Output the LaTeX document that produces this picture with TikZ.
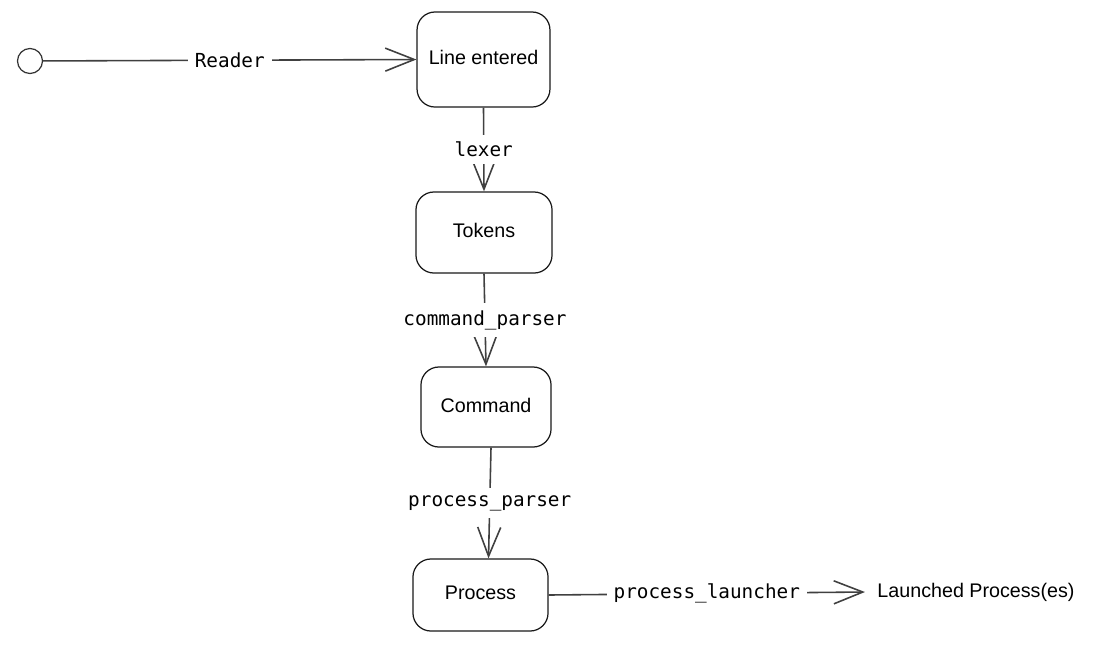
\documentclass[tikz,border=0pt]{standalone}
\usepackage{fontspec}
\setmainfont{Liberation Sans}
\newfontfamily\codefont{DejaVu Sans Mono}
\usetikzlibrary{arrows.meta, positioning}

\begin{document}
\begin{tikzpicture}[x=0.01cm, y=-0.01cm, line width=0.45pt]
    \tikzset{
        statebox/.style={draw=black!90, line width=0.35pt, rounded corners=0.18cm, text depth=0.12em, font=\fontsize{5.6}{7}\selectfont, align=center},
        steplabel/.style={fill=white, font=\codefont\fontsize{5.5}{7}\selectfont, midway, inner sep=2pt},
        flow/.style={draw=black!75, -{Straight Barb[length=0.29cm, width=0.23cm]}}
    }
    \useasboundingbox (0,0) rectangle (1109,660);

    \node[draw=black!80, line width=0.35pt, circle, minimum size=0.25cm, inner sep=0pt] (start) at (30,61) {};
    \node[statebox, minimum width=1.31cm, minimum height=0.95cm] (line) at (483.5,59.5) {Line entered};
    \node[statebox, minimum width=1.36cm, minimum height=0.81cm] (tokens) at (484,232.5) {Tokens};
    \node[statebox, minimum width=1.30cm, minimum height=0.80cm] (command) at (486,407) {Command};
    \node[statebox, minimum width=1.35cm, minimum height=0.72cm] (process) at (480.5,595) {Process};
    \node[font=\fontsize{5.6}{7}\selectfont] (launched) at (976,592) {Launched Process(es)};

    \draw[flow] (start) -- node[steplabel] {Reader} (line.west);
    \draw[flow] (line.south) -- node[steplabel] {lexer} (tokens.north);
    \draw[flow] (tokens.south) -- node[steplabel] {command\_parser} (command.north);
    \draw[flow] ([xshift=0.05cm]command.south) -- node[steplabel] {process\_parser} ([xshift=0.08cm]process.north);
    \draw[flow] (process.east) -- node[steplabel] {process\_launcher} (launched.west);
\end{tikzpicture}
\end{document}
